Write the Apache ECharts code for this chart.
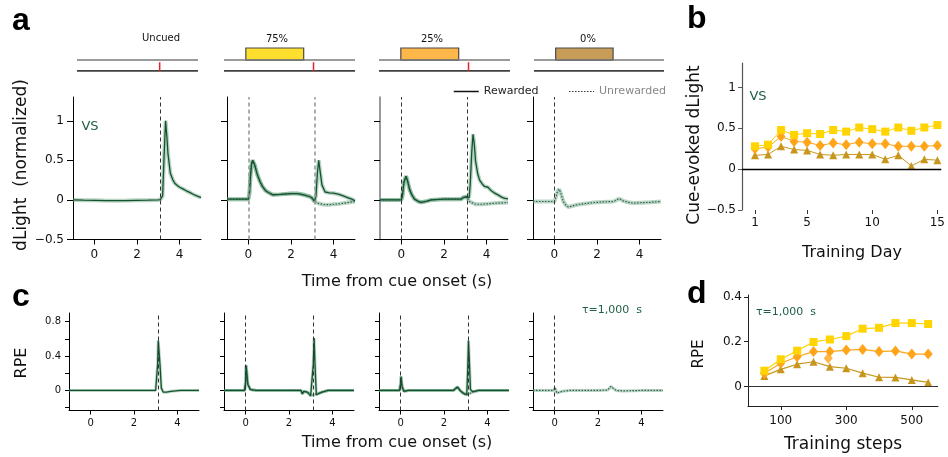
<!DOCTYPE html>
<html>
<head>
<meta charset="utf-8">
<script src="https://cdn.jsdelivr.net/npm/echarts@6/dist/echarts.min.js"></script>
<style>
  html, body { margin: 0; padding: 0; background: #fff; }
  #chart { width: 948px; height: 457px; }
</style>
</head>
<body>
<div id="chart"></div>
<script>
// ---- panel a: dLight traces, [time (s), dLight (normalized)] ----
const a1Rewarded = [[-1, 0], [-0.5, -0.003], [0, -0.005], [0.5, -0.008], [1, -0.01], [1.5, -0.008], [2, -0.005], [2.5, -0.003], [3, 0], [3.1, 0.005], [3.2, 0.05], [3.27, 0.55], [3.34, 1.0], [3.4, 0.8], [3.45, 0.59], [3.56, 0.34], [3.67, 0.26], [3.77, 0.21], [3.9, 0.18], [4.0, 0.16], [4.15, 0.14], [4.31, 0.115], [4.47, 0.095], [4.63, 0.072], [4.8, 0.05], [5.0, 0.03]]

const a2Shared = [[-1, 0.01], [-0.5, 0.01], [-0.1, 0.01], [0, 0.01], [0.05, 0.08], [0.1, 0.3], [0.15, 0.45], [0.2, 0.5], [0.3, 0.44], [0.42, 0.32], [0.55, 0.23], [0.66, 0.17], [0.8, 0.12], [0.9, 0.1], [1.14, 0.065], [1.5, 0.07], [2.0, 0.08], [2.3, 0.08], [2.6, 0.065], [2.9, 0.04], [3.0, 0.02]]
const a2RewardedPost = [[3.1, -0.02], [3.17, 0.05], [3.24, 0.35], [3.3, 0.5], [3.37, 0.35], [3.45, 0.19], [3.6, 0.1], [3.8, 0.09], [4.0, 0.085], [4.25, 0.07], [4.45, 0.05], [4.65, 0.03], [4.85, 0.01], [5.0, -0.01]]
const a2UnrewardedPost = [[3.1, -0.02], [3.2, -0.035], [3.3, -0.045], [3.45, -0.055], [3.6, -0.06], [3.8, -0.06], [4.0, -0.055], [4.25, -0.05], [4.5, -0.04], [4.75, -0.03], [5.0, -0.02]]

const a3Shared = [[-1, 0], [-0.5, 0], [0, 0], [0.05, 0.05], [0.12, 0.22], [0.22, 0.3], [0.3, 0.23], [0.39, 0.13], [0.5, 0.06], [0.62, 0.01], [0.8, -0.02], [0.94, -0.03], [1.2, -0.015], [1.4, 0], [2.0, 0.01], [2.5, 0.01], [2.8, 0.01], [2.9, 0.03], [2.97, 0.055], [3.05, 0.04]]
const a3RewardedPost = [[3.12, 0.02], [3.18, 0.03], [3.23, 0.2], [3.3, 0.6], [3.36, 0.83], [3.42, 0.7], [3.48, 0.49], [3.58, 0.33], [3.67, 0.25], [3.8, 0.2], [3.9, 0.17], [4.06, 0.16], [4.2, 0.12], [4.38, 0.085], [4.55, 0.06], [4.7, 0.035], [4.85, 0.02], [5.0, 0.013]]
const a3UnrewardedPost = [[3.12, 0.01], [3.2, -0.02], [3.35, -0.04], [3.5, -0.055], [3.75, -0.055], [4.0, -0.05], [4.5, -0.04], [5.0, -0.034]]

const a4Unrewarded = [[-1, -0.02], [-0.5, -0.02], [0, -0.02], [0.07, 0.03], [0.15, 0.11], [0.22, 0.136], [0.3, 0.09], [0.42, -0.02], [0.55, -0.07], [0.66, -0.09], [0.8, -0.08], [1.0, -0.065], [1.2, -0.055], [1.5, -0.045], [1.83, -0.034], [2.3, -0.025], [2.77, -0.02], [2.9, -0.005], [3.0, 0.013], [3.1, 0.008], [3.23, -0.013], [3.45, -0.03], [3.7, -0.04], [4.1, -0.035], [4.5, -0.03], [5.0, -0.02]]

// ---- panel c: model RPE traces, [time (s), RPE] ----
const c1Rewarded = [[-1, 0], [0, 0], [1, 0], [2, 0], [3, 0], [3.05, 0.01], [3.09, 0.3], [3.12, 0.58], [3.16, 0.56], [3.2, 0.3], [3.26, 0.03], [3.35, -0.02], [3.5, -0.02], [3.7, -0.01], [4.15, 0], [5, 0]]

const c2Shared = [[-1, 0], [-0.05, 0], [0, 0.1], [0.02, 0.29], [0.06, 0.18], [0.1, 0.07], [0.22, 0.01], [0.5, 0], [1, 0], [2, 0], [2.55, 0], [2.62, -0.04], [2.68, -0.01], [2.75, 0], [2.85, -0.02], [3.0, -0.06], [3.08, -0.07]]
const c2RewardedPost = [[3.12, 0.3], [3.16, 0.61], [3.2, 0.3], [3.26, -0.05], [3.35, -0.04], [3.5, -0.023], [3.8, 0], [4.5, 0], [5, 0]]
const c2UnrewardedPost = [[3.19, -0.05], [3.3, -0.04], [3.5, -0.02], [3.8, 0], [4.5, 0], [5, 0]]

const c3Shared = [[-1, 0], [-0.05, 0], [0, 0.08], [0.02, 0.16], [0.06, 0.05], [0.15, -0.01], [0.34, 0], [1, 0], [2, 0], [2.43, 0], [2.52, 0.015], [2.62, 0.04], [2.74, 0], [2.85, -0.025], [2.95, -0.04], [3.05, -0.05]]
const c3RewardedPost = [[3.09, 0.2], [3.13, 0.58], [3.17, 0.35], [3.22, 0.01], [3.33, -0.015], [3.6, 0], [4.5, 0], [5, 0]]
const c3UnrewardedPost = [[3.15, -0.04], [3.3, -0.02], [3.6, 0], [4.5, 0], [5, 0]]

const c4Unrewarded = [[-1, 0], [-0.05, 0], [0.02, 0.03], [0.1, -0.03], [0.35, -0.01], [0.7, 0], [2, 0], [2.45, 0.005], [2.6, 0.047], [2.7, 0.025], [2.84, 0], [3.15, -0.005], [4, 0], [5, 0]]

// ---- trial schematic ----
const cueLabels = ['Uncued', '75%', '25%', '0%']
const cueColors = [null, '#ffdf2e', '#fdb64a', '#c69c57']
const cueSpan = [-1, 5]
const cueWindow = [0, 2.65]
const rewardTime = 3.1
const rewardShown = [true, true, true, false]

// ---- panel b: cue-evoked dLight per training day ----
const trainingDays = [1, 2, 3, 4, 5, 6, 7, 8, 9, 10, 11, 12, 13, 14, 15]
const bCue75 = [0.28, 0.30, 0.48, 0.42, 0.44, 0.43, 0.48, 0.46, 0.51, 0.49, 0.46, 0.51, 0.47, 0.51, 0.54]
const bCue25 = [0.25, 0.27, 0.40, 0.34, 0.33, 0.29, 0.32, 0.30, 0.33, 0.31, 0.31, 0.28, 0.28, 0.28, 0.29]
const bCue0 = [0.17, 0.18, 0.28, 0.24, 0.23, 0.18, 0.17, 0.18, 0.18, 0.18, 0.12, 0.17, 0.04, 0.12, 0.11]
const dayTicks = [1, 5, 10, 15]

// ---- panel d: cue RPE per training steps ----
const trainingSteps = [50, 100, 150, 200, 250, 300, 350, 400, 450, 500, 550]
const dCue75 = [0.071, 0.122, 0.16, 0.199, 0.21, 0.225, 0.258, 0.262, 0.283, 0.283, 0.279]
const dCue25 = [0.06, 0.104, 0.133, 0.156, 0.156, 0.163, 0.166, 0.156, 0.159, 0.145, 0.145]
const dCue0 = [0.048, 0.077, 0.1, 0.111, 0.089, 0.082, 0.06, 0.042, 0.041, 0.03, 0.019]
const dCue25Stray = [[245, 0.126]]
const stepTicks = [100, 300, 500]

const FONT = 'DejaVu Sans'
const GREEN = '#14532f'
const minus = v => String(v).replace('-', '\u2212')

const chart = echarts.init(document.getElementById('chart'))

const grid = []
const xAxis = []
const yAxis = []
const series = []

// schematic grids (0-3)
const sLeft = [77, 224, 379, 534]
const sWidth = [121, 131, 131, 130]
for (let i = 0; i < 4; i++) {
  grid.push({ left: sLeft[i], top: 48, width: sWidth[i], height: 23 })
  xAxis.push({ gridIndex: i, type: 'value', min: cueSpan[0], max: cueSpan[1], show: false })
  yAxis.push({ gridIndex: i, type: 'value', min: 0, max: 2.1, show: false })
  const gray = {
    type: 'line', xAxisIndex: i, yAxisIndex: i, symbol: 'none', silent: true,
    data: [[cueSpan[0], 1], [cueSpan[1], 1]],
    lineStyle: { color: '#7a7a7a', width: 1.5 }, z: 2
  }
  if (cueColors[i]) {
    gray.markArea = {
      silent: true,
      itemStyle: { color: cueColors[i], borderColor: '#4a4a4a', borderWidth: 1.2 },
      data: [[{ coord: [cueWindow[0], 1] }, { coord: [cueWindow[1], 2.1] }]]
    }
  }
  series.push(gray)
  series.push({
    type: 'line', xAxisIndex: i, yAxisIndex: i, symbol: 'none', silent: true,
    data: [[cueSpan[0], 0], [cueSpan[1], 0]],
    lineStyle: { color: '#000', width: 1.5 }
  })
  if (rewardShown[i]) {
    series.push({
      type: 'line', xAxisIndex: i, yAxisIndex: i, symbol: 'none', silent: true,
      data: [[rewardTime, 0], [rewardTime, 0.8]],
      lineStyle: { color: '#e8202a', width: 1.5 }
    })
  }
}

function traceSeries(idx, data, dotted, name, bandWidth) {
  return [
    {
      type: 'line', name: name + ' sem', xAxisIndex: idx, yAxisIndex: idx, data, symbol: 'none', silent: true,
      lineStyle: { width: bandWidth, color: 'rgba(100,160,125,0.45)' }, z: 2
    },
    {
      type: 'line', name, xAxisIndex: idx, yAxisIndex: idx, data, symbol: 'none', silent: true,
      itemStyle: { color: 'rgba(0,0,0,0)' },
      lineStyle: { width: dotted ? 1.2 : 1.3, color: dotted ? '#2f6248' : GREEN, type: dotted ? [1.5, 1.5] : 'solid' },
      z: 3
    }
  ]
}

function dashLines(times, color, width) {
  return {
    symbol: ['none', 'none'], silent: true, label: { show: false },
    lineStyle: { type: [4, 3], color, width },
    data: times.map(t => ({ xAxis: t }))
  }
}

// panel a grids (4-7)
const aLeft = [73, 227, 380, 533]
const aTraces = [
  [[a1Rewarded, false, 'a1 rewarded']],
  [[a2Shared.concat(a2UnrewardedPost), true, 'Unrewarded'], [a2Shared.concat(a2RewardedPost), false, 'Rewarded']],
  [[a3Shared.concat(a3UnrewardedPost), true, 'a3 unrewarded'], [a3Shared.concat(a3RewardedPost), false, 'a3 rewarded']],
  [[a4Unrewarded, true, 'a4 unrewarded']]
]
const aDash = [[rewardTime], [0, rewardTime], [0, rewardTime], [0]]
const aDashColor = ['#333', '#999', '#333', '#333']
for (let i = 0; i < 4; i++) {
  const g = 4 + i
  grid.push({ left: aLeft[i], top: 97, width: 128, height: 142.5 })
  xAxis.push({
    gridIndex: g, type: 'value', min: -1, max: 5,
    axisLine: { onZero: false, lineStyle: { color: '#000', width: 1 } },
    axisTick: { customValues: [0, 2, 4], length: 5, lineStyle: { color: '#000' } },
    axisLabel: { customValues: [0, 2, 4], margin: 9, fontSize: 12, color: '#111', fontFamily: FONT },
    splitLine: { show: false }
  })
  yAxis.push({
    gridIndex: g, type: 'value', min: -0.5, max: 1.3,
    axisLine: { show: true, onZero: false, lineStyle: { color: i === 2 ? '#777' : '#000', width: i === 2 ? 1.5 : 1 } },
    axisTick: { show: true, customValues: [-0.5, 0, 0.5, 1], length: 6, lineStyle: { color: '#000' } },
    axisLabel: { show: i === 0, customValues: [-0.5, 0, 0.5, 1], formatter: minus, margin: 9, fontSize: 12, color: '#111', fontFamily: FONT },
    splitLine: { show: false }
  })
  aTraces[i].forEach((tr, k) => {
    const s = traceSeries(g, tr[0], tr[1], tr[2], 4)
    if (k === 0) s[0].markLine = dashLines(aDash[i], aDashColor[i], i === 1 ? 1.6 : 1)
    series.push(...s)
  })
}

// panel c grids (8-11)
const cLeft = [69, 224, 379, 533]
const cTraces = [
  [[c1Rewarded, false, 'c1 rewarded']],
  [[c2Shared.concat(c2UnrewardedPost), true, 'c2 unrewarded'], [c2Shared.concat(c2RewardedPost), false, 'c2 rewarded']],
  [[c3Shared.concat(c3UnrewardedPost), true, 'c3 unrewarded'], [c3Shared.concat(c3RewardedPost), false, 'c3 rewarded']],
  [[c4Unrewarded, true, 'c4 unrewarded']]
]
for (let i = 0; i < 4; i++) {
  const g = 8 + i
  grid.push({ left: cLeft[i], top: 313, width: 130, height: 97.5 })
  xAxis.push({
    gridIndex: g, type: 'value', min: -1, max: 5,
    axisLine: { onZero: false, lineStyle: { color: '#000', width: 1 } },
    axisTick: { customValues: [0, 2, 4], length: 4, lineStyle: { color: '#000' } },
    axisLabel: { customValues: [0, 2, 4], margin: 8, fontSize: 10, color: '#111', fontFamily: FONT },
    splitLine: { show: false }
  })
  yAxis.push({
    gridIndex: g, type: 'value', min: -0.233, max: 0.9,
    axisLine: { show: true, onZero: false, lineStyle: { color: '#000', width: 1 } },
    axisTick: { show: true, customValues: [-0.2, 0, 0.2, 0.4, 0.6, 0.8], length: 4, lineStyle: { color: '#000' } },
    axisLabel: { show: i === 0, customValues: [0, 0.4, 0.8], margin: 8, fontSize: 10, color: '#111', fontFamily: FONT },
    splitLine: { show: false }
  })
  cTraces[i].forEach((tr, k) => {
    const s = traceSeries(g, tr[0], tr[1], tr[2], 3)
    if (k === 0) s[0].markLine = dashLines(aDash[i], '#333', 1)
    series.push(...s)
  })
}

// panel b (12)
grid.push({ left: 742, top: 63, width: 205, height: 147 })
xAxis.push({
  gridIndex: 12, type: 'value', min: 0, max: 15.3,
  axisLine: { show: false, onZero: false },
  axisTick: { show: true, customValues: dayTicks, length: 4, lineStyle: { color: '#333' } },
  axisLabel: { customValues: dayTicks, margin: 7, fontSize: 12, color: '#111', fontFamily: FONT },
  splitLine: { show: false }
})
yAxis.push({
  gridIndex: 12, type: 'value', min: -0.5, max: 1.3,
  axisLine: { show: true, onZero: false, lineStyle: { color: '#555', width: 1.2 } },
  axisTick: { show: true, customValues: [-0.5, 0, 0.5, 1], length: 4, lineStyle: { color: '#555' } },
  axisLabel: { customValues: [-0.5, 0, 0.5, 1], formatter: minus, margin: 6, fontSize: 12, color: '#111', fontFamily: FONT },
  splitLine: { show: false }
})

// panel d (13)
grid.push({ left: 748, top: 295, width: 190, height: 111 })
xAxis.push({
  gridIndex: 13, type: 'value', min: 0, max: 580,
  axisLine: { show: true, onZero: false, lineStyle: { color: '#222', width: 1 } },
  axisTick: { show: true, customValues: stepTicks, length: 4, lineStyle: { color: '#222' } },
  axisLabel: { customValues: stepTicks, margin: 9, fontSize: 12, color: '#111', fontFamily: FONT },
  splitLine: { show: false }
})
yAxis.push({
  gridIndex: 13, type: 'value', min: -0.086, max: 0.408,
  axisLine: { show: true, onZero: false, lineStyle: { color: '#222', width: 1 } },
  axisTick: { show: true, customValues: [0, 0.2, 0.4], length: 4, lineStyle: { color: '#222' } },
  axisLabel: { customValues: [0, 0.2, 0.4], margin: 6, fontSize: 12, color: '#111', fontFamily: FONT },
  splitLine: { show: false }
})

const markerDefs = [
  { name: 'cue 0%', color: '#c8961c', symbol: 'triangle', size: 8 },
  { name: 'cue 25%', color: '#ffa51a', symbol: 'diamond', size: [9, 11] },
  { name: 'cue 75%', color: '#ffd400', symbol: 'rect', size: 8 }
]
const bValues = [bCue0, bCue25, bCue75]
const dValues = [dCue0, dCue25, dCue75]
markerDefs.forEach((m, k) => {
  series.push({
    type: 'line', name: 'b ' + m.name, xAxisIndex: 12, yAxisIndex: 12,
    data: trainingDays.map((d, j) => [d, bValues[k][j]]),
    symbol: m.symbol, symbolSize: m.size, silent: true,
    itemStyle: { color: m.color }, lineStyle: { color: m.color, width: 1 }, z: 4 + k,
    markLine: k === 0 ? {
      symbol: ['none', 'none'], silent: true, label: { show: false },
      lineStyle: { color: '#000', width: 1.3, type: 'solid' }, data: [{ yAxis: 0 }]
    } : undefined
  })
  series.push({
    type: 'line', name: 'd ' + m.name, xAxisIndex: 13, yAxisIndex: 13,
    data: trainingSteps.map((s, j) => [s, dValues[k][j]]),
    symbol: m.symbol, symbolSize: m.size, silent: true,
    itemStyle: { color: m.color }, lineStyle: { color: m.color, width: 1.2 }, z: 4 + k,
    markLine: k === 0 ? {
      symbol: ['none', 'none'], silent: true, label: { show: false },
      lineStyle: { color: '#333', width: 1, type: 'solid' }, data: [{ yAxis: 0 }]
    } : undefined
  })
})
series.push({
  type: 'scatter', name: 'd stray', xAxisIndex: 13, yAxisIndex: 13, data: dCue25Stray,
  symbol: 'diamond', symbolSize: [9, 11], itemStyle: { color: '#ffa51a' }, silent: true, z: 5
})

function txt(text, x, y, size, opts) {
  return Object.assign({
    type: 'text', x, y, silent: true,
    style: Object.assign({ text, fontSize: size, fontFamily: FONT, fill: '#111', align: 'center', verticalAlign: 'middle' }, (opts && opts.style) || {})
  }, opts && opts.rotation ? { rotation: opts.rotation } : {})
}

const graphic = [
  txt('a', 12, 21, 32, { style: { align: 'left', fontWeight: 'bold', fontFamily: 'Liberation Sans', fill: '#000' } }),
  txt('b', 687, 19, 32, { style: { align: 'left', fontWeight: 'bold', fontFamily: 'Liberation Sans', fill: '#000' } }),
  txt('c', 12, 297, 32, { style: { align: 'left', fontWeight: 'bold', fontFamily: 'Liberation Sans', fill: '#000' } }),
  txt('d', 687, 294, 32, { style: { align: 'left', fontWeight: 'bold', fontFamily: 'Liberation Sans', fill: '#000' } }),
  txt(cueLabels[0], 161, 38, 10),
  txt(cueLabels[1], 277, 39, 10),
  txt(cueLabels[2], 432, 39, 10),
  txt(cueLabels[3], 588, 39, 10),
  txt('dLight  (normalized)', 22, 165, 17, { rotation: Math.PI / 2 }),
  txt('Time from cue onset (s)', 397, 282, 16),
  txt('VS', 90, 127, 13, { style: { fill: '#1e5e44' } }),
  txt('RPE', 22, 363, 16, { rotation: Math.PI / 2 }),
  txt('Time from cue onset (s)', 397, 443, 16),
  txt('\u03c4=1,000  s', 612, 310, 11, { style: { fill: '#1e5e44' } }),
  txt('Cue-evoked dLight', 695, 145, 17, { rotation: Math.PI / 2 }),
  txt('VS', 758, 97, 13, { style: { fill: '#1e5e44' } }),
  txt('Training Day', 852, 253, 16),
  txt('RPE', 699, 354, 15, { rotation: Math.PI / 2 }),
  txt('\u03c4=1,000  s', 786, 312, 11, { style: { fill: '#1e5e44' } }),
  txt('Training steps', 843, 445, 17)
]

chart.setOption({
  animation: false,
  backgroundColor: '#fff',
  textStyle: { fontFamily: FONT },
  grid, xAxis, yAxis, series, graphic,
  legend: {
    left: 448, top: 81, itemWidth: 25, itemHeight: 10, itemGap: 30, selectedMode: false,
    textStyle: { fontSize: 11, fontFamily: FONT },
    data: [
      { name: 'Rewarded', itemStyle: { opacity: 0 }, lineStyle: { color: '#111', width: 1.5, type: 'solid' }, textStyle: { color: '#222' } },
      { name: 'Unrewarded', itemStyle: { opacity: 0 }, lineStyle: { color: '#333', width: 1.2, type: [1.5, 1.5] }, textStyle: { color: '#888' } }
    ]
  }
})
</script>
</body>
</html>
